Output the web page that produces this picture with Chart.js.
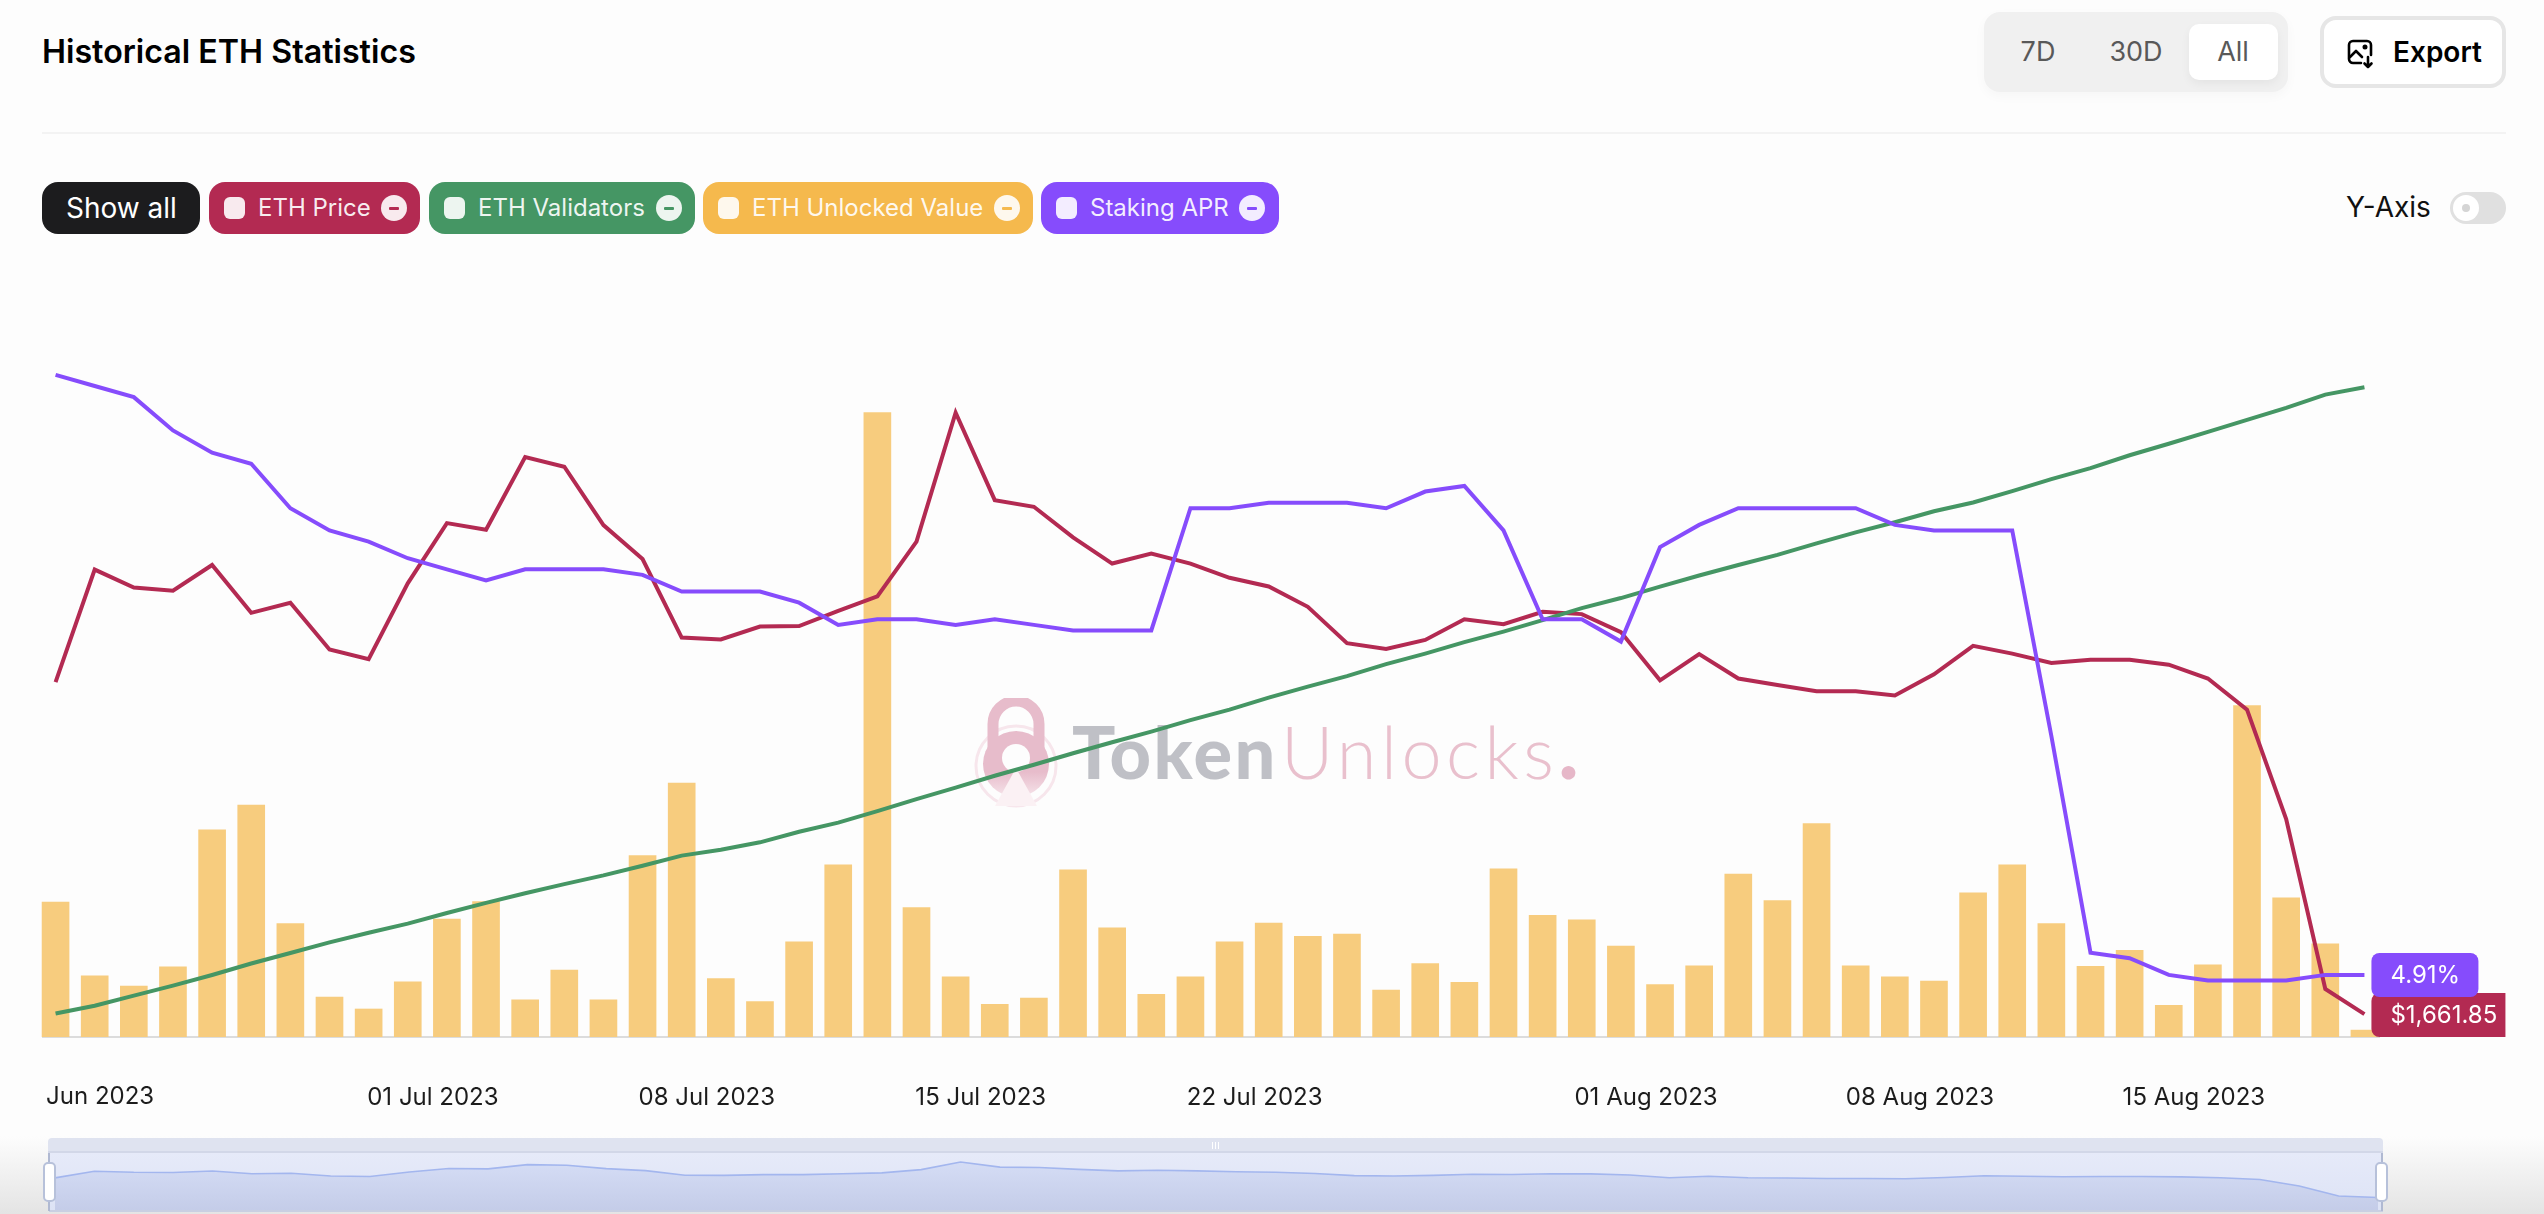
<!DOCTYPE html>
<html>
<head>
<meta charset="utf-8">
<title>Historical ETH Statistics</title>
<script src="https://cdn.jsdelivr.net/npm/chart.js@4/dist/chart.umd.min.js"></script>
<style>
html,body{margin:0;padding:0;width:2544px;height:1214px;overflow:hidden;background:#fdfdfd;font-family:Inter,"Noto Sans",sans-serif;color:#000}
.a{position:absolute}
#shade{left:0;top:1136px;width:2544px;height:78px;background:linear-gradient(to bottom,rgba(225,225,225,0),rgba(225,225,225,.9))}
#title{left:42px;top:32px;font-size:32.200px;font-weight:600;line-height:40px;white-space:nowrap}
#divider{left:42px;top:132px;width:2464px;height:2px;background:#f3f3f3}
#tabs{left:1984px;top:12px;width:304px;height:80px;background:#f0f0f0;border-radius:16px;box-shadow:0 4px 12px rgba(0,0,0,.03)}
#allPill{left:2189px;top:24px;width:89px;height:56px;background:#fff;border-radius:10px;box-shadow:0 4px 10px rgba(0,0,0,.05)}
.tab{top:24px;height:56px;line-height:56px;width:90px;text-align:center;font-size:27px;color:#595959}
#export{left:2320px;top:16px;width:178px;height:64px;border:4px solid #e6e6e6;border-radius:16px;background:#fff}
#exportText{left:2393px;top:24px;height:56px;line-height:56px;font-size:28px;font-weight:600}
#icon{left:2347px;top:39px}
.chip{top:182px;height:52px;border-radius:16px;color:#fff}
.chip .t{position:absolute;top:0;line-height:52px;font-size:24px;white-space:nowrap;color:rgba(255,255,255,.92)}
.chip .s{position:absolute;top:15px;width:21px;height:22px;border-radius:6px;background:rgba(255,255,255,.9)}
.chip .c{position:absolute;top:13px;width:26px;height:26px;border-radius:13px;background:rgba(255,255,255,.9)}
.chip .m{position:absolute;top:24.5px;width:10px;height:3px;border-radius:1px}
#yaxis{left:2346px;top:187px;line-height:40px;font-size:28px;color:#111}
#toggle{left:2450px;top:192px;width:56px;height:32px;border-radius:16px;background:#e0e0e0}
#knob{left:2453px;top:195px;width:26px;height:26px;border-radius:13px;background:#fff}
#dot{left:2462px;top:204px;width:8px;height:8px;border-radius:4px;background:#d5d5d5}
#wmA{left:1072px;top:706px;font-family:Lato,Inter,sans-serif;font-weight:900;font-size:72px;letter-spacing:2.500px;line-height:90px;color:#bfc0c6;white-space:nowrap}
#wmB{left:1281px;top:706px;font-family:Lato,Inter,sans-serif;font-weight:300;font-size:72px;letter-spacing:4.500px;line-height:90px;color:#e9c0cd;white-space:nowrap}
#wmB b{font-weight:900;font-size:84px;line-height:0;color:#e6b7c8}
#lock{left:973px;top:698px}
#main{left:0;top:340px}
#band{left:48px;top:1138px;width:2335px;height:14px;background:#dfe3f0;border-radius:4px 4px 0 0}
#bandLine{left:48px;top:1151px;width:2335px;height:2px;background:#d2d7e8}
#sliderBg{left:49px;top:1153px;width:2334px;height:58px;background:linear-gradient(to bottom,#e6eaf9,#dde3f5)}
#sliderBase{left:49px;top:1210px;width:2334px;height:2px;background:#c9cfe2}
#mini{left:0;top:1152px}
.vl{top:1153px;width:2px;height:58px;background:#b0b9d2}
.hd{top:1162px;width:9px;height:36px;background:#fff;border:2px solid #b7c1da;border-radius:5px}
.grip{top:1142px;width:1px;height:7px;background:#fff}
</style>
</head>
<body>
<div class="a" id="shade"></div>
<div class="a" id="title">Historical ETH Statistics</div>
<div class="a" id="divider"></div>
<div class="a" id="tabs"></div>
<div class="a" id="allPill"></div>
<div class="a tab" style="left:1993px">7D</div>
<div class="a tab" style="left:2091px">30D</div>
<div class="a tab" style="left:2188px">All</div>
<div class="a" id="export"></div>
<svg class="a" id="icon" width="28" height="30" viewBox="0 0 28 30" fill="none" stroke="#000" stroke-width="2.6" stroke-linecap="round" stroke-linejoin="round">
  <path d="M14 24H6a4 4 0 0 1-4-4V6a4 4 0 0 1 4-4h14a4 4 0 0 1 4 4v10"/>
  <path d="M3 18l6-6 6 6"/><circle cx="18" cy="8" r="1.2"/>
  <path d="M21 18v10M17.500 24.500l3.500 3.500 3.500-3.500"/>
</svg>
<div class="a" id="exportText">Export</div>
<div id="chips"></div>
<div class="a" id="yaxis">Y-Axis</div>
<div class="a" id="toggle"></div>
<div class="a" id="knob"></div>
<div class="a" id="dot"></div>
<svg class="a" id="lock" width="86" height="112" viewBox="0 0 86 112">
  <defs><linearGradient id="lg" x1="0" y1="0" x2="0" y2="1"><stop offset=".62" stop-color="#e7bccb"/><stop offset="1" stop-color="#f6e4ea"/></linearGradient></defs>
  <circle cx="43" cy="68" r="40" fill="none" stroke="#f7e6ec" stroke-width="3"/>
  <path d="M20 50V26a23 23 0 0 1 46 0v24" fill="none" stroke="#e7bccb" stroke-width="11"/>
  <circle cx="43" cy="66" r="33" fill="url(#lg)"/>
  <circle cx="43" cy="60" r="14" fill="#fdfdfd"/>
  <path d="M43 70L22 108h42z" fill="#fbf1f4"/>
</svg>
<div class="a" id="wmA">Token</div>
<div class="a" id="wmB">Unlocks<b>.</b></div>
<canvas class="a" id="main" width="2544" height="787"></canvas>
<div class="a" id="band"></div>
<div class="a" id="bandLine"></div>
<div class="a" id="sliderBg"></div>
<canvas class="a" id="mini" width="2544" height="59"></canvas>
<div class="a" id="sliderBase"></div>
<div class="a vl" style="left:48px"></div>
<div class="a vl" style="left:2381px"></div>
<div class="a hd" style="left:43px"></div>
<div class="a hd" style="left:2375px"></div>
<div class="a grip" style="left:1212px"></div>
<div class="a grip" style="left:1215px"></div>
<div class="a grip" style="left:1218px"></div>
<script>
const categories = ["21 Jun 2023","22 Jun 2023","23 Jun 2023","24 Jun 2023","25 Jun 2023","26 Jun 2023","27 Jun 2023","28 Jun 2023","29 Jun 2023","30 Jun 2023",
"01 Jul 2023","02 Jul 2023","03 Jul 2023","04 Jul 2023","05 Jul 2023","06 Jul 2023","07 Jul 2023","08 Jul 2023","09 Jul 2023","10 Jul 2023",
"11 Jul 2023","12 Jul 2023","13 Jul 2023","14 Jul 2023","15 Jul 2023","16 Jul 2023","17 Jul 2023","18 Jul 2023","19 Jul 2023","20 Jul 2023",
"21 Jul 2023","22 Jul 2023","23 Jul 2023","24 Jul 2023","25 Jul 2023","26 Jul 2023","27 Jul 2023","28 Jul 2023","29 Jul 2023","30 Jul 2023",
"31 Jul 2023","01 Aug 2023","02 Aug 2023","03 Aug 2023","04 Aug 2023","05 Aug 2023","06 Aug 2023","07 Aug 2023","08 Aug 2023","09 Aug 2023",
"10 Aug 2023","11 Aug 2023","12 Aug 2023","13 Aug 2023","14 Aug 2023","15 Aug 2023","16 Aug 2023","17 Aug 2023","18 Aug 2023","19 Aug 2023"];
const firstTickLabel = "Jun 2023";
const tickLabels = ["01 Jul 2023","08 Jul 2023","15 Jul 2023","22 Jul 2023","01 Aug 2023","08 Aug 2023","15 Aug 2023"];
const seriesNames = ["ETH Price","ETH Validators","ETH Unlocked Value","Staking APR"];
const priceValues = [1848.4,1911.6,1901.5,1899.7,1914.2,1887.3,1893.0,1866.7,1861.3,1903.9,
1937.7,1934.0,1974.8,1969.4,1936.6,1917.5,1873.4,1872.4,1879.6,1879.9,
1888.4,1896.6,1927.3,1999.8,1950.6,1946.9,1929.7,1915.0,1920.6,1915.0,
1907.0,1902.1,1890.7,1870.3,1867.0,1872.1,1883.7,1880.9,1887.9,1886.6,
1876.5,1849.4,1864.1,1850.4,1846.8,1843.2,1843.2,1840.9,1852.8,1868.8,
1864.4,1859.2,1861.0,1861.0,1858.2,1850.4,1832.9,1771.5,1676.0,1661.85];
const validatorValues = [640000,641445,643315,645185,647140,649265,651220,653175,654960,656660,
658615,660485,662270,663970,665585,667370,669240,670345,671705,673660,
675360,677485,679695,681820,684030,686070,688195,690235,692190,694315,
696270,698480,700520,702475,704685,706640,708765,710720,712845,715055,
716925,719050,721090,723045,724915,727040,729080,730950,732990,734605,
736730,738940,740980,743360,745485,747695,749905,752115,754580,755940];
const unlockedValues = [29.4,13.3,11.1,15.3,45.1,50.5,24.7,8.7,6.1,12.0,
25.7,29.5,8.1,14.6,8.1,39.5,55.3,12.7,7.7,20.7,
37.5,136.0,28.2,13.1,7.1,8.5,36.4,23.8,9.3,13.1,
20.7,24.8,21.9,22.4,10.2,16.0,11.9,36.6,26.5,25.5,
19.8,11.4,15.5,35.5,29.7,46.5,15.5,13.1,12.2,31.4,
37.5,24.7,15.4,18.9,6.9,15.7,72.2,30.3,20.3,1.5];
const aprValues = [5.99,5.97,5.95,5.89,5.85,5.83,5.75,5.71,5.69,5.66,
5.64,5.62,5.64,5.64,5.64,5.63,5.60,5.60,5.60,5.58,
5.54,5.55,5.55,5.54,5.55,5.54,5.53,5.53,5.53,5.75,
5.75,5.76,5.76,5.76,5.75,5.78,5.79,5.71,5.55,5.55,
5.51,5.68,5.72,5.75,5.75,5.75,5.75,5.72,5.71,5.71,
5.71,5.34,4.95,4.94,4.91,4.90,4.90,4.90,4.91,4.91];

const colors = {price:"#b32a52",validators:"#459664",unlockedChip:"#f5b94d",unlockedBar:"#f7cc7e",apr:"#864cfc"};

// chips row
const chipBoxes = [[209,211,15,49,172],[429,266,15,49,227],[703,330,15,49,291],[1041,238,15,49,198]];
const chipColors = [colors.price,colors.validators,colors.unlockedChip,colors.apr];
const chips = document.getElementById("chips");
chips.innerHTML = '<div class="a chip" style="left:42px;width:158px;background:#1c1c1e"><span class="t" style="left:24px;font-size:28px;color:#fff">Show all</span></div>' +
  seriesNames.map((n,i)=>{const b=chipBoxes[i];return `<div class="a chip" style="left:${b[0]}px;width:${b[1]}px;background:${chipColors[i]}"><span class="s" style="left:${b[2]}px"></span><span class="t" style="left:${b[3]}px">${n}</span><span class="c" style="left:${b[4]}px"></span><span class="m" style="left:${b[4]+8}px;background:${chipColors[i]}"></span></div>`}).join("");

const endLabels = {
  id:"endLabels",
  afterDatasetsDraw(chart){
    const ctx = chart.ctx;
    const pP = chart.getDatasetMeta(0).data.at(-1);
    const pA = chart.getDatasetMeta(3).data.at(-1);
    const draw = (pt,w,radii,bg,txt)=>{
      const x = pt.x+7, y = Math.round(pt.y)-22+ (bg===colors.price?1:0);
      ctx.save();
      ctx.fillStyle = bg;
      ctx.beginPath(); ctx.roundRect(x,y,w,44,radii); ctx.fill();
      ctx.fillStyle = "#fff"; ctx.font = "24px Inter"; ctx.textBaseline="middle"; ctx.textAlign="left";
      ctx.fillText(txt,x+19,y+23);
      ctx.restore();
    };
    draw(pP,134,[8,0,0,8],colors.price,"$"+priceValues.at(-1).toLocaleString("en-US",{minimumFractionDigits:2}));
    draw(pA,107,8,colors.apr,aprValues.at(-1).toFixed(2)+"%");
  }
};

const mainCanvas = document.getElementById("main");
const axisLine = mainCanvas.getContext("2d").createLinearGradient(0,0,2544,0);
axisLine.addColorStop(0,"rgba(220,220,220,0)");
axisLine.addColorStop(42/2544,"rgba(220,220,220,0)");
axisLine.addColorStop(42/2544,"#dcdcdc");
axisLine.addColorStop(2380/2544,"#dcdcdc");
axisLine.addColorStop(2380/2544,"rgba(220,220,220,0)");
axisLine.addColorStop(1,"rgba(220,220,220,0)");

const fixedFont = {family:"Inter",size:24};
new Chart(mainCanvas,{
  data:{labels:categories,datasets:[
    {type:"line",label:seriesNames[0],data:priceValues,yAxisID:"yPrice",borderColor:colors.price,borderWidth:4,pointRadius:0,tension:0,order:3},
    {type:"line",label:seriesNames[1],data:validatorValues,yAxisID:"yValidators",borderColor:colors.validators,borderWidth:4,pointRadius:0,tension:0,order:2},
    {type:"bar",label:seriesNames[2],data:unlockedValues,yAxisID:"yUnlocked",backgroundColor:colors.unlockedBar,barThickness:27,order:4},
    {type:"line",label:seriesNames[3],data:aprValues,yAxisID:"yApr",borderColor:colors.apr,borderWidth:4,pointRadius:0,tension:0,order:1}
  ]},
  options:{
    responsive:false,animation:false,devicePixelRatio:1,
    layout:{padding:{left:36,right:160,top:0,bottom:0}},
    plugins:{legend:{display:false},tooltip:{enabled:false}},
    scales:{
      x:{type:"category",offset:true,weight:1,
        grid:{display:false,drawTicks:false},
        border:{display:true,color:axisLine,width:2},
        afterFit(s){s.height=90},
        ticks:{autoSkip:false,maxRotation:0,minRotation:0,padding:46,labelOffset:-14,color:"#1c1c1c",font:fixedFont,
          callback(v){const l=this.getLabelForValue(v);return tickLabels.includes(l)?l:""}}},
      xFirst:{type:"category",offset:true,position:"bottom",weight:-1,
        grid:{display:false,drawTicks:false},border:{display:false},
        afterFit(s){s.height=0},
        ticks:{autoSkip:false,maxRotation:0,minRotation:0,mirror:true,padding:-74,align:"start",labelOffset:-9.5,color:"#1c1c1c",font:fixedFont,
          callback(v,i){return i===0?firstTickLabel:""}}},
      yPrice:{display:false,min:1649,max:2040.6},
      yValidators:{display:false,min:635665,max:764695},
      yUnlocked:{display:false,min:0,max:151.8},
      yApr:{display:false,min:4.7982,max:6.0528}
    }
  },
  plugins:[endLabels]
});

const miniCanvas = document.getElementById("mini");
const miniGrad = miniCanvas.getContext("2d").createLinearGradient(0,0,0,59);
miniGrad.addColorStop(0,"#d8e0f8");
miniGrad.addColorStop(1,"#c4cce8");
new Chart(miniCanvas,{
  type:"line",
  data:{labels:categories,datasets:[{label:seriesNames[0],data:priceValues,borderColor:"#a3b6ee",borderWidth:1.6,pointRadius:0,tension:0,fill:"start",backgroundColor:miniGrad}]},
  options:{responsive:false,animation:false,devicePixelRatio:1,
    layout:{padding:{left:55,right:166,top:0,bottom:0}},
    plugins:{legend:{display:false},tooltip:{enabled:false}},
    scales:{x:{display:false},y:{display:false,min:1533,max:2095}}}
});
</script>
</body>
</html>
